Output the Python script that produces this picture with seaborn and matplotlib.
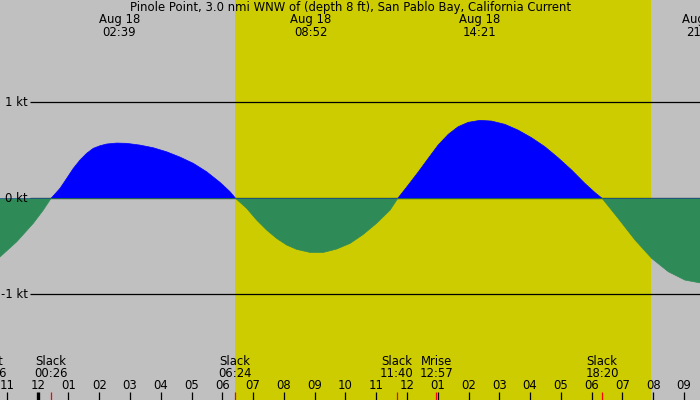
import matplotlib
matplotlib.use("Agg")
import matplotlib.pyplot as plt
import numpy as np
import pandas as pd
import seaborn as sns

# current speed (kt), time in hours after midnight Aug 18
hours = [-1.225, -0.682, -0.143, 0.182, 0.433,
         0.724, 0.942, 1.157, 1.374, 1.59, 1.806, 2.024, 2.24, 2.567, 2.89,
         3.32, 3.756, 4.19, 4.623, 5.055, 5.49, 5.923, 6.25, 6.43,
         6.79, 7.115, 7.44, 7.765, 8.09, 8.415, 8.85, 9.28, 9.71, 10.15,
         10.58, 11.01, 11.45, 11.70,
         12.04, 12.37, 12.69, 13.01, 13.34, 13.66, 13.99, 14.37, 14.75, 15.18,
         15.61, 16.05, 16.48, 16.91, 17.35, 17.78, 18.1, 18.34,
         18.86, 19.41, 19.95, 20.49, 21.03, 21.52]
speed = [-0.61, -0.452, -0.26, -0.122, 0.0,
         0.104, 0.208, 0.3125, 0.399, 0.469, 0.521, 0.548, 0.566, 0.576, 0.573,
         0.555, 0.527, 0.485, 0.430, 0.365, 0.277, 0.167, 0.069, 0.0,
         -0.104, -0.226, -0.33, -0.417, -0.486, -0.531, -0.563, -0.563, -0.528, -0.469,
         -0.375, -0.26, -0.122, 0.0,
         0.139, 0.277, 0.417, 0.555, 0.667, 0.746, 0.792, 0.8125, 0.805, 0.771,
         0.711, 0.631, 0.538, 0.423, 0.295, 0.156, 0.0625, 0.0,
         -0.208, -0.434, -0.625, -0.764, -0.851, -0.88]

# max/min current labels on top
peak_hours = [2.65, 8.867, 14.35, 21.6]
peak_labels = ["02:39", "08:52", "14:21", "21:36"]

# slack / moon events along the bottom
event_hours = [-1.567, 0.433, 6.40, 11.667, 12.95, 18.333]
event_names = ["Mset", "Slack", "Slack", "Slack", "Mrise", "Slack"]
event_labels = ["22:26", "00:26", "06:24", "11:40", "12:57", "18:20"]

sunrise, sunset = 6.40, 19.925
hour_ticks = list(range(-1, 22))
hour_labels = ["11", "12"] + ["%02d" % h for h in range(1, 13)] + ["%02d" % h for h in range(1, 10)]

df = pd.DataFrame({"hour": hours, "speed": speed})
df["flood"] = df["speed"].clip(lower=0)
df["ebb"] = df["speed"].clip(upper=0)

sns.set_theme(style="white")
plt.rcParams['font.family'] = ['DejaVu Sans']
plt.rcParams['text.color'] = 'black'
fs = 8.4

fig = plt.figure(figsize=(7, 4), dpi=100)
fig.patch.set_facecolor('#c0c0c0')
ax = fig.add_axes([0, 0, 1, 1])
ax.set_facecolor('#c0c0c0')

ax.axvspan(sunrise, sunset, color='#cccc00', lw=0, zorder=0)
ax.hlines([1, 0, -1], -0.25, 21.52, color='black', lw=0.9, zorder=1)

ax.fill_between(df["hour"], 0, df["flood"], color='#0000ff', lw=0, zorder=2)
ax.fill_between(df["hour"], 0, df["ebb"], color='#2e8b57', lw=0, zorder=3)
sns.lineplot(data=df, x="hour", y="flood", color='#0000ff', lw=0.5, ax=ax, zorder=2)
sns.lineplot(data=df, x="hour", y="ebb", color='#2e8b57', lw=0.5, ax=ax, zorder=3)
ax.set_xlim(-1.225, 21.52)
ax.set_ylim(-2.10, 2.066)
ax.set_axis_off()

for v, lab in zip([1, 0, -1], ["1 kt", "0 kt", "-1 kt"]):
    ax.text(-0.32, v, lab, ha='right', va='center', fontsize=fs, zorder=5)

xt = ax.get_xaxis_transform()
ax.text(0.5, 1 - 7.5 / 400, "Pinole Point, 3.0 nmi WNW of (depth 8 ft), San Pablo Bay, California Current",
        transform=ax.transAxes, ha='center', va='center', fontsize=fs)
for h, lab in zip(peak_hours, peak_labels):
    ax.text(h, 1 - 20 / 400, "Aug 18", transform=xt, ha='center', va='center', fontsize=fs)
    ax.text(h, 1 - 32 / 400, lab, transform=xt, ha='center', va='center', fontsize=fs)

for h, name, lab in zip(event_hours, event_names, event_labels):
    ax.text(h, 1 - 361.5 / 400, name, transform=xt, ha='center', va='center', fontsize=fs)
    ax.text(h, 1 - 373.5 / 400, lab, transform=xt, ha='center', va='center', fontsize=fs)
    ax.vlines(h, 0, 8 / 400, transform=xt, color='red', lw=0.9, zorder=6)

for h, lab in zip(hour_ticks, hour_labels):
    ax.text(h, 1 - 385.5 / 400, lab, transform=xt, ha='center', va='center', fontsize=fs)
    ax.vlines(h, 0, 8 / 400, transform=xt, color='black', lw=2.4 if h == 0 else 0.9, zorder=5)

fig.savefig("out.png", dpi=100, facecolor=fig.get_facecolor())
